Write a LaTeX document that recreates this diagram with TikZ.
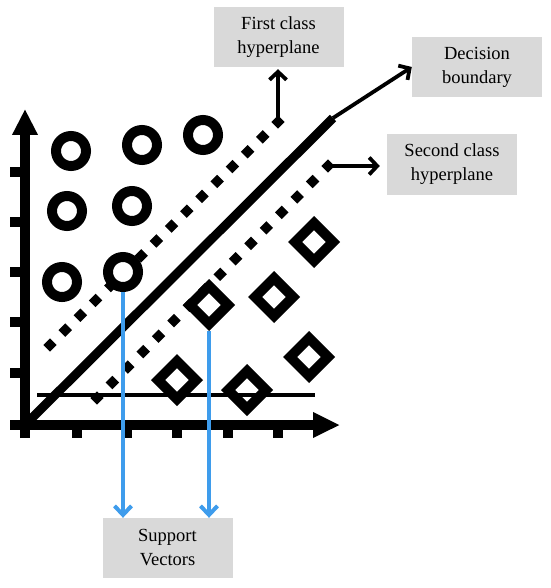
\documentclass[tikz,border=0pt]{standalone}
\usepackage{fontspec}
\setmainfont{Liberation Serif}
\usetikzlibrary{arrows.meta,shapes.geometric,calc}
\definecolor{boxgray}{RGB}{217,217,217}
\definecolor{svblue}{RGB}{62,156,236}
\begin{document}
\begin{tikzpicture}[x=1pt,y=-1pt,
  lbl/.style={fill=boxgray, minimum width=130pt, minimum height=60pt, inner sep=0pt, align=center, font=\fontsize{18.5}{24}\selectfont},
  ring/.style={circle, draw, fill=white, line width=10pt, minimum size=30pt, inner sep=0pt},
  dia/.style={diamond, draw, fill=white, line width=10pt, minimum width=42pt, minimum height=42pt, inner sep=0pt},
  axisline/.style={line width=10pt},
  tickline/.style={line width=10pt},
  sqdot/.style={rectangle, fill=black, minimum size=9.5pt, inner sep=0pt, rotate=45},
  pointer/.style={line width=3.8pt, -{Straight Barb[length=8pt,width=17pt]}},
  svarrow/.style={line width=4pt, draw=svblue, -{Straight Barb[length=9pt,width=17pt]}}
]
\useasboundingbox (0,0) rectangle (550,588);

% label boxes
\node[lbl] (fc) at (278.5,37) {First class\\hyperplane};
\node[lbl] (db) at (477,67) {Decision\\boundary};
\node[lbl] (sc) at (452,164.5) {Second class\\hyperplane};
\node[lbl] (sv) at (167.5,548) {Support\\Vectors};

% axes
\coordinate (yb) at (25,438);
\coordinate (yt) at (25,109);
\coordinate (xl) at (10,425);
\coordinate (xr) at (340,425);
\draw[axisline,-{Triangle[length=26pt,width=24pt]}] (yb) -- (yt);
\draw[axisline,-{Triangle[length=27pt,width=24pt]}] (xl) -- (xr);
\foreach \y in {172,222,272,322,373} \draw[tickline] (10,\y) -- (25,\y);
\foreach \x in {77,127,177,228,278} \draw[tickline] (\x,425) -- (\x,438);

% decision boundary
\coordinate (dl0) at (27,423);
\coordinate (dl1) at (333,118);
\draw[line width=9pt] (dl0) -- (dl1);
\draw[pointer] (dl1) -- (db.west);

% first class hyperplane (dotted)
\coordinate (f0) at (50,345);
\coordinate (f1) at (278,122);
\foreach \i in {0,...,15} \node[sqdot] at ($(f0)!\i/15!(f1)$) {};
\draw[pointer, shorten >=2pt] (f1) -- (f1 |- fc.south);

% second class hyperplane (dotted)
\coordinate (s0) at (97,398);
\coordinate (s1) at (328,166);
\foreach \i in {0,...,15} \node[sqdot] at ($(s0)!\i/15!(s1)$) {};
\draw[pointer, shorten >=7pt] (s1) -- (s1 -| sc.west);

% first class points
\node[ring] (c11) at (71,151) {};
\node[ring] (c12) at (142,145) {};
\node[ring] (c13) at (203,135) {};
\node[ring] (c21) at (67,211) {};
\node[ring] (c22) at (132,206) {};
\node[ring] (c31) at (62,282) {};
\node[ring] (c32) at (123,272) {};

% second class points
\node[dia] (q1) at (314,242) {};
\node[dia] (q2) at (274,297) {};
\node[dia] (q3) at (209,305) {};
\node[dia] (q4) at (309,357) {};
\node[dia] (q5) at (177,380) {};
\node[dia] (q6) at (247,390) {};

% horizontal line
\coordinate (h0) at (37,395);
\coordinate (h1) at (315,395);
\draw[line width=3.5pt] (h0) -- (h1);

% support vector arrows
\draw[svarrow] (c32.south) -- (c32.south |- sv.north);
\draw[svarrow] (q3.south) -- (q3.south |- sv.north);
\end{tikzpicture}
\end{document}
